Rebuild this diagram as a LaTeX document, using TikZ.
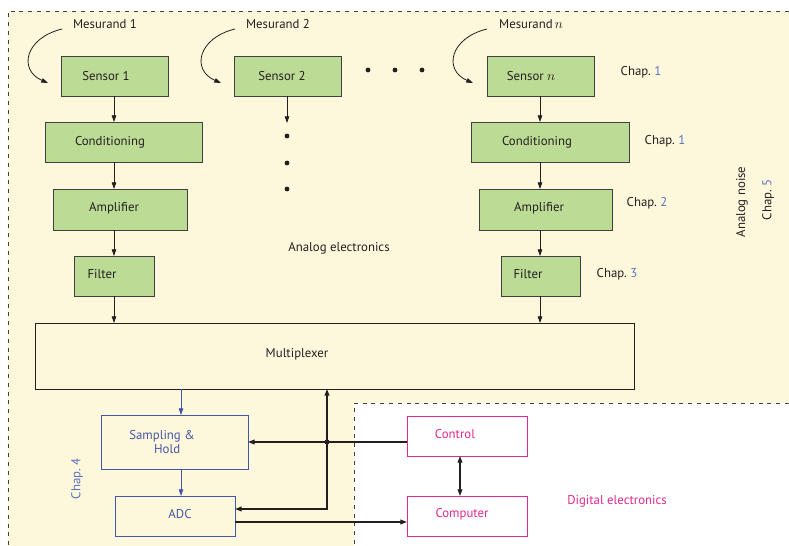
\documentclass[tikz,border=0pt]{standalone}
\usepackage{fontspec}
\setmainfont{PT Sans}
\usetikzlibrary{arrows.meta}

\definecolor{bgyellow}{RGB}{253,248,219}
\definecolor{sensgreen}{RGB}{188,220,150}
\definecolor{edge}{RGB}{64,64,64}
\definecolor{ink}{RGB}{35,31,32}
\definecolor{chapblue}{RGB}{90,115,195}
\definecolor{adcblue}{RGB}{70,85,170}
\definecolor{digpink}{RGB}{228,40,140}

\newcommand{\chapref}[1]{Chap.~\textcolor{chapblue}{#1}}

\tikzset{
  wh/.style 2 args={minimum width=#1*0.75pt, minimum height=#2*0.75pt},
  box/.style={draw=edge, line width=0.75pt, inner sep=0pt, outer sep=0pt, text=ink},
  gbox/.style={box, fill=sensgreen},
  mbox/.style={box, draw=ink, line width=0.7pt},
  bbox/.style={box, draw=adcblue, text=adcblue, line width=0.65pt},
  pbox/.style={box, draw=digpink, text=digpink, fill=white, line width=0.65pt},
  txt/.style={inner sep=0pt, outer sep=0pt, text=ink},
  arr/.style={-{Triangle[length=5pt,width=3.4pt]}, line width=0.6pt, draw=ink},
  barr/.style={arr, draw=adcblue, -{Triangle[length=5pt,width=3.4pt,fill=adcblue]}},
  darr/.style={-{Triangle[length=5pt,width=3.6pt]}, line width=0.9pt, draw=ink},
  frame/.style={draw=edge, line width=0.6pt, dash pattern=on 3pt off 3.6pt},
  dot/.style={fill=ink},
}

\begin{document}
\begin{tikzpicture}[x=0.75pt, y=-0.75pt, font=\fontsize{9.6}{11}\selectfont]
\useasboundingbox (0,0) rectangle (789,546);

% analog region (L-shaped) and digital region frames
\fill[bgyellow] (8,11) -- (789,11) -- (789,403) -- (354,403) -- (354,546) -- (8,546) -- cycle;
\draw[frame] (789,11) -- (8,11) -- (8,546);
\draw[frame] (789,403) -- (354,403) -- (354,546);

% measurands
\node[txt] (mes1) at (105,24) {Mesurand 1};
\node[txt] (mes2) at (278,24) {Mesurand 2};
\node[txt] (mesn) at (531,24) {Mesurand\,$n$};

% sensor chains
\node[gbox, wh={107}{40}, label={[txt,name=s1t,xshift=-8.5*0.75pt]center:Sensor 1}] (s1) at (114.5,76) {};
\node[gbox, wh={107}{40}, label={[txt,name=s2t,xshift=-5.5*0.75pt]center:Sensor 2}] (s2) at (287.5,76) {};
\node[gbox, wh={107}{40}, label={[txt,name=snt,xshift=-9.5*0.75pt]center:Sensor $n$}] (sn) at (540.5,76) {};

\node[gbox, wh={157}{40}, label={[txt,name=c1t,xshift=-13.5*0.75pt]center:Conditioning}] (c1) at (123.5,142) {};
\node[gbox, wh={158}{40}, label={[txt,name=cnt,xshift=-13*0.75pt]center:Conditioning}] (cn) at (550,142) {};

\node[gbox, wh={134}{41}, label={[txt,name=a1t,xshift=-6*0.75pt,yshift=1.5*0.75pt]center:Amplifier}] (a1) at (120,209.5) {};
\node[gbox, wh={133}{41}, label={[txt,name=ant,xshift=-6.5*0.75pt,yshift=1.5*0.75pt]center:Amplifier}] (an) at (545.5,209.5) {};

\node[gbox, wh={80}{40}, label={[txt,name=f1t,xshift=-12*0.75pt,yshift=2*0.75pt]center:Filter}] (f1) at (114,276) {};
\node[gbox, wh={79}{40}, label={[txt,name=fnt,xshift=-12.5*0.75pt,yshift=2*0.75pt]center:Filter}] (fn) at (540.5,276) {};

\node[mbox, wh={599}{66}, label={[txt,name=muxt,xshift=-37.5*0.75pt,yshift=2*0.75pt]center:Multiplexer}] (mux) at (334.5,356) {};

% conversion
\node[bbox, wh={147}{54}, label={[txt,text=adcblue,align=center,name=sht,xshift=-12.5*0.75pt,font=\fontsize{9.6}{10.5}\selectfont]center:Sampling \&\\\ \ \ Hold}] (sh) at (174.5,442) {};
\node[bbox, wh={120}{40}, label={[txt,text=adcblue,name=adct,xshift=5*0.75pt,yshift=2*0.75pt]center:ADC}] (adc) at (175,516) {};

% digital part
\node[pbox, wh={120}{40}, label={[txt,text=digpink,name=ctlt,xshift=-12*0.75pt,yshift=2*0.75pt]center:Control}] (ctl) at (467,436) {};
\node[pbox, wh={120}{40}, label={[txt,text=digpink,name=compt,xshift=-5*0.75pt,yshift=2*0.75pt]center:Computer}] (comp) at (467,516) {};

% chapter references and region labels
\node[txt] (ch1a) at (641,72) {\chapref{1}};
\node[txt] (ch1b) at (665,141) {\chapref{1}};
\node[txt] (ch2) at (647,203) {\chapref{2}};
\node[txt] (ch3) at (617,274) {\chapref{3}};
\node[txt, rotate=90] (noise) at (742,202) {Analog noise};
\node[txt, rotate=90] (ch5) at (768,200) {\chapref{5}};
\node[txt, rotate=90, text=chapblue] (ch4) at (77,479) {Chap.~4};
\node[txt] (analog) at (339,248) {Analog electronics};
\node[txt, text=digpink] (digital) at (617,501) {Digital electronics};

% measurand arrows
\coordinate (m1a) at (62,29);  \coordinate (m1b) at (48,83);
\coordinate (m2a) at (235,29); \coordinate (m2b) at (221,83);
\coordinate (mna) at (487,29); \coordinate (mnb) at (473,83);
\draw[arr] (m1a) .. controls (25,38) and (18,70) .. (m1b);
\draw[arr] (m2a) .. controls (198,38) and (191,70) .. (m2b);
\draw[arr] (mna) .. controls (450,38) and (443,70) .. (mnb);

% vertical signal columns
\coordinate (col1) at (114,0);
\coordinate (coln) at (540,0);
\coordinate (colb) at (181,0);
\coordinate (colc) at (460,0);

% chain 1
\draw[arr] (s1.south -| col1) -- (c1.north -| col1);
\draw[arr] (c1.south -| col1) -- (a1.north -| col1);
\draw[arr] (a1.south -| col1) -- (f1.north -| col1);
\draw[arr] (f1.south -| col1) -- (mux.north -| col1);

% chain 2 (elided)
\coordinate (s2end) at (287,123);
\draw[arr] (s2.south -| s2end) -- (s2end);

% chain n
\draw[arr] (sn.south -| coln) -- (cn.north -| coln);
\draw[arr] (cn.south -| coln) -- (an.north -| coln);
\draw[arr] (an.south -| coln) -- (fn.north -| coln);
\draw[arr] (fn.south -| coln) -- (mux.north -| coln);

% ellipsis dots
\foreach \x in {368,395,422} \fill[dot] (\x,70) circle (2.4);
\foreach \y in {136,163,189} \fill[dot] (287,\y) circle (2.4);

% conversion path
\draw[barr] (mux.south -| colb) -- (sh.north -| colb);
\draw[barr] (sh.south -| colb) -- (adc.north -| colb);

% control and data lines
\coordinate (j) at (327,442);
\coordinate (jb) at (327,509);
\coordinate (ao) at (235,522);
\draw[darr] (ctl.west |- j) -- (sh.east |- j);
\draw[darr] (j) -- (j |- mux.south);
\draw[darr] (j) -- (jb) -- (jb -| adc.east);
\fill[dot] (j) circle (2.6);
\draw[darr] (ao) -- (ao -| comp.west);
\draw[darr, {Triangle[length=5pt,width=3.6pt]}-{Triangle[length=5pt,width=3.6pt]}] (ctl.south -| colc) -- (comp.north -| colc);
\end{tikzpicture}
\end{document}
